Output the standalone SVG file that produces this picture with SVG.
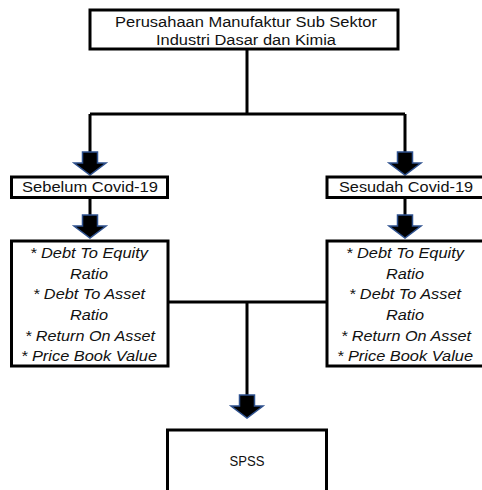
<svg xmlns="http://www.w3.org/2000/svg" width="482" height="490" viewBox="0 0 482 490">
<style>
.box{fill:#fff;stroke:#000;stroke-width:3}
.ln{fill:none;stroke:#000;stroke-width:3}
.t{font-family:"Liberation Sans",Arial,sans-serif;font-size:14px;fill:#111;text-anchor:middle}
.i{font-style:italic}
.arr{fill:#000;stroke:#2F528F;stroke-width:1.5;stroke-linejoin:miter}
</style>
<defs>
<path id="arrow" class="arr" d="M-7.5,0 H7.5 V11 H16 L0,23 L-16,11 H-7.5 Z"/>
</defs>
<rect width="482" height="490" fill="#fff"/>
<g id="connectors">
<path class="ln" d="M247,50 V114 M90,114 H405 M90,114 V152 M405,114 V152 M90,198 V215 M405,198 V215 M168,302 H326 M247,302 V395"/>
<use href="#arrow" x="90" y="152"/>
<use href="#arrow" x="405" y="152"/>
<use href="#arrow" x="90" y="215"/>
<use href="#arrow" x="405" y="215"/>
<use href="#arrow" x="247" y="395"/>
</g>
<g id="node-top">
<rect class="box" x="90" y="10" width="308" height="39"/>
<text class="t" x="246" y="27" textLength="262" lengthAdjust="spacingAndGlyphs">Perusahaan Manufaktur Sub Sektor</text>
<text class="t" x="246" y="45" textLength="180" lengthAdjust="spacingAndGlyphs">Industri Dasar dan Kimia</text>
</g>
<g id="node-sebelum">
<rect class="box" x="11.5" y="177" width="156" height="20.5"/>
<text class="t" x="90" y="192" textLength="136" lengthAdjust="spacingAndGlyphs">Sebelum Covid-19</text>
</g>
<g id="node-sesudah">
<rect class="box" x="327" y="177" width="160" height="20.5"/>
<text class="t" x="406" y="192" textLength="134" lengthAdjust="spacingAndGlyphs">Sesudah Covid-19</text>
</g>
<g id="node-left-metrics">
<rect class="box" x="11.5" y="241" width="156.5" height="125"/>
<text class="t i" x="89" y="258" textLength="118" lengthAdjust="spacingAndGlyphs">* Debt To Equity</text>
<text class="t i" x="89" y="279" textLength="38" lengthAdjust="spacingAndGlyphs">Ratio</text>
<text class="t i" x="89" y="299" textLength="112" lengthAdjust="spacingAndGlyphs">* Debt To Asset</text>
<text class="t i" x="89" y="320" textLength="38" lengthAdjust="spacingAndGlyphs">Ratio</text>
<text class="t i" x="90" y="341" textLength="130" lengthAdjust="spacingAndGlyphs">* Return On Asset</text>
<text class="t i" x="89" y="361" textLength="136" lengthAdjust="spacingAndGlyphs">* Price Book Value</text>
</g>
<g id="node-right-metrics">
<rect class="box" x="327" y="241" width="160" height="125"/>
<text class="t i" x="405" y="258" textLength="118" lengthAdjust="spacingAndGlyphs">* Debt To Equity</text>
<text class="t i" x="405" y="279" textLength="38" lengthAdjust="spacingAndGlyphs">Ratio</text>
<text class="t i" x="405" y="299" textLength="112" lengthAdjust="spacingAndGlyphs">* Debt To Asset</text>
<text class="t i" x="405" y="320" textLength="38" lengthAdjust="spacingAndGlyphs">Ratio</text>
<text class="t i" x="406" y="341" textLength="130" lengthAdjust="spacingAndGlyphs">* Return On Asset</text>
<text class="t i" x="405" y="361" textLength="136" lengthAdjust="spacingAndGlyphs">* Price Book Value</text>
</g>
<g id="node-spss">
<rect class="box" x="167.5" y="430" width="159" height="70"/>
<text class="t" x="247" y="466" textLength="35" lengthAdjust="spacingAndGlyphs">SPSS</text>
</g>
</svg>
